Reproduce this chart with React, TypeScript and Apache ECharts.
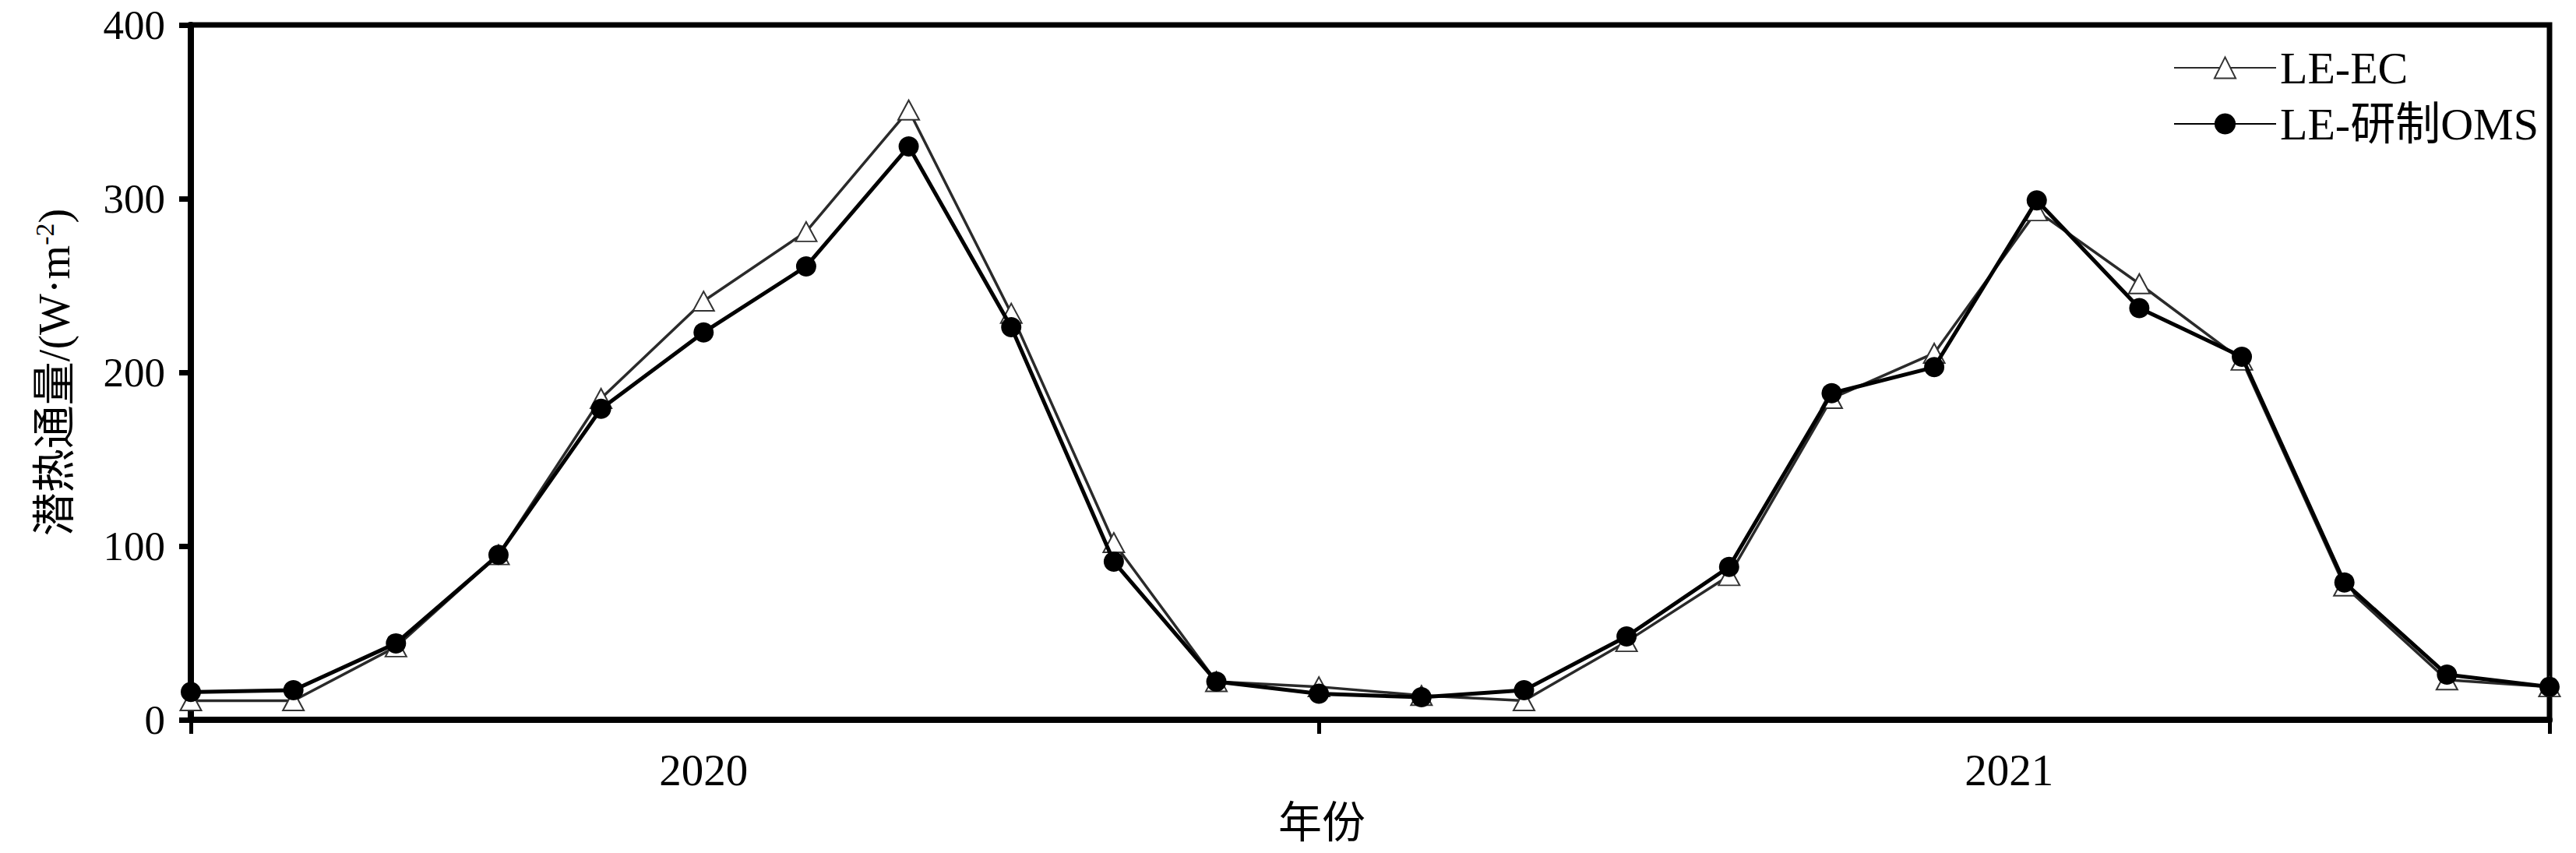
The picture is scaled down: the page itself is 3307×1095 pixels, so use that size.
import React, { useEffect, useRef } from 'react';
import * as echarts from 'echarts';

const monthIndex = [0, 1, 2, 3, 4, 5, 6, 7, 8, 9, 10, 11, 12, 13, 14, 15, 16, 17, 18, 19, 20, 21, 22, 23];
const leEC = [11, 11, 42, 95, 185, 241, 281, 351, 234, 102, 22, 19, 14, 11, 45, 83, 185, 211, 293, 251, 207, 77, 23, 19];
const leOMS = [16, 17, 44, 95, 179, 223, 261, 330, 226, 91, 22, 15, 13, 17, 48, 88, 188, 203, 299, 237, 209, 79, 26, 19];
const seriesNames = ['LE-EC', 'LE-研制OMS'];
const xTickPositions = [0, 11, 23];
const yearLabelPositions = [5, 17.73];
const yearLabels = ['2020', '2021'];
const xAxisName = '年份';

const FONT = "'Liberation Serif', 'Times New Roman', 'Noto Sans CJK SC', serif";

export default function App() {
  const ref = useRef<HTMLDivElement>(null);
  useEffect(() => {
    document.body.style.margin = '0';
    if (!ref.current) return;
    const chart = echarts.init(ref.current, null, { renderer: 'svg' });
    const ecData = monthIndex.map((x, i) => [x, leEC[i]]);
    const omsData = monthIndex.map((x, i) => [x, leOMS[i]]);
    chart.setOption({
      animation: false,
      backgroundColor: '#fff',
      grid: {
        left: 245,
        right: 34,
        top: 32,
        bottom: 171,
        show: true,
        borderColor: '#000',
        borderWidth: 7,
        backgroundColor: 'transparent',
      },
      legend: {
        orient: 'vertical',
        left: 2785,
        top: 53,
        itemWidth: 131,
        itemHeight: 34,
        itemGap: 14,
        textStyle: { fontSize: 58, fontFamily: FONT, color: '#000' },
        data: seriesNames,
      },
      xAxis: {
        type: 'value',
        min: 0,
        max: 23,
        axisLine: { show: true, onZero: false, lineStyle: { color: '#000', width: 8 } },
        axisTick: { show: true, customValues: xTickPositions, length: 18, lineStyle: { color: '#000', width: 5 } },
        axisLabel: {
          customValues: yearLabelPositions,
          formatter: (v: number) => {
            let best = 0;
            yearLabelPositions.forEach((p, i) => {
              if (Math.abs(p - v) < Math.abs(yearLabelPositions[best] - v)) best = i;
            });
            return yearLabels[best];
          },
          margin: 36,
          fontSize: 57,
          fontFamily: FONT,
          color: '#000',
        },
        splitLine: { show: false },
        name: xAxisName,
        nameLocation: 'middle',
        nameGap: 104,
        nameTextStyle: { fontSize: 56, fontFamily: FONT, color: '#000', padding: [0, 124, 0, 0] },
      },
      yAxis: {
        type: 'value',
        min: 0,
        max: 400,
        interval: 100,
        axisLine: { show: true, lineStyle: { color: '#000', width: 8 } },
        axisTick: { show: true, length: 15, lineStyle: { color: '#000', width: 7 } },
        axisLabel: { margin: 33, fontSize: 53, fontFamily: FONT, color: '#000' },
        splitLine: { show: false },
        name: '{a|潜热通量/(W·m}{sup|-2}{a|)}',
        nameLocation: 'middle',
        nameGap: 145,
        nameTextStyle: {
          fontFamily: FONT,
          color: '#000',
          rich: {
            a: { fontSize: 56, fontFamily: FONT, color: '#000', lineHeight: 60 },
            sup: { fontSize: 34, fontFamily: FONT, color: '#000', verticalAlign: 'top', lineHeight: 60 },
          },
        },
      },
      series: [
        {
          name: seriesNames[0],
          type: 'line',
          data: ecData,
          symbol: 'triangle',
          symbolSize: [27, 25],
          lineStyle: { color: '#2a2a2a', width: 3.5 },
          itemStyle: { color: '#fff', borderColor: '#333', borderWidth: 2 },
          z: 2,
        },
        {
          name: seriesNames[1],
          type: 'line',
          data: omsData,
          symbol: 'circle',
          symbolSize: 26,
          lineStyle: { color: '#000', width: 5 },
          itemStyle: { color: '#000' },
          z: 3,
        },
      ],
    });
    return () => chart.dispose();
  }, []);
  return <div ref={ref} style={{ width: 3307, height: 1095 }} />;
}
